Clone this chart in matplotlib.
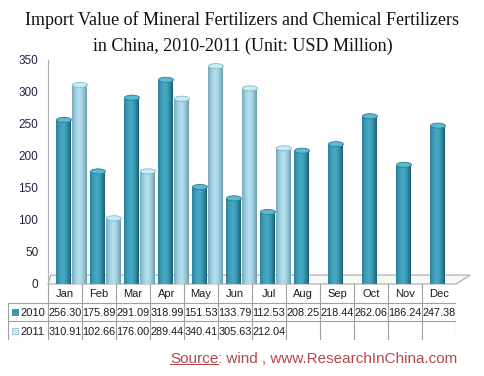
import numpy as np
import matplotlib.pyplot as plt
from matplotlib.colors import LinearSegmentedColormap
from matplotlib.patches import Ellipse, Polygon

# data
months = ['Jan', 'Feb', 'Mar', 'Apr', 'May', 'Jun', 'Jul', 'Aug', 'Sep', 'Oct', 'Nov', 'Dec']
v2010 = [256.30, 175.89, 291.09, 318.99, 151.53, 133.79, 112.53, 208.25, 218.44, 262.06, 186.24, 247.38]
v2011 = [310.91, 102.66, 176.00, 289.44, 340.41, 305.63, 212.04]
series_names = ['2010', '2011']
yticks = [0, 50, 100, 150, 200, 250, 300, 350]

W, H = 485, 376
fig = plt.figure(figsize=(W / 100, H / 100), dpi=100)
sans = 'Liberation Sans'

# colours for the two series (cylinder look)
cm_dark = LinearSegmentedColormap.from_list('d', ['#2b8199', '#3fa0bb', '#4aaac5', '#3392ab', '#1c5d70'])
cm_light = LinearSegmentedColormap.from_list('l', ['#7aa9b9', '#9fd1e2', '#b6e1ee', '#9acbdc', '#6e9bab'])
cap_face = ['#5cb9d1', '#c8ecf6']
cap_edge = ['#2b7d93', '#86b8c9']
grad = np.linspace(0, 1, 64).reshape(1, -1)

ax = fig.add_axes([48 / W, 1 - 284 / H, (456 - 48) / W, (284 - 60) / H])
ax.set_xlim(-0.5, 11.5)
ax.set_ylim(0, 350)

# floor
floor = Polygon([(-0.5, 0), (11.5, 0), (11.92, 14), (-0.42, 14)], closed=True,
                facecolor='#f8f8f8', edgecolor='#a8a8a8', lw=0.8, zorder=1, clip_on=False)
ax.add_patch(floor)

x = np.arange(len(months))
bw = 0.44
offsets = [-0.03, 0.44]
for k, (vals, cm) in enumerate([(v2010, cm_dark), (v2011, cm_light)]):
    xs = x[:len(vals)] + offsets[k]
    bars = ax.bar(xs, vals, bottom=0, width=bw, color='none', zorder=2)
    for b, v in zip(bars, vals):
        x0 = b.get_x()
        im = ax.imshow(grad, cmap=cm, aspect='auto', extent=[x0, x0 + bw, 0, v], zorder=2)
        im.set_clip_path(b)
        ax.add_patch(Ellipse((x0 + bw / 2, v), bw, 8, facecolor=cap_face[k],
                             edgecolor=cap_edge[k], lw=0.6, zorder=3))

ax.set_xlim(-0.5, 11.5)
ax.set_ylim(0, 350)
ax.set_xticks([])
ax.set_yticks(yticks)
ax.set_yticklabels([str(t) for t in yticks], fontsize=8.5, family=sans, color='#1f2640')
ax.tick_params(axis='y', length=0, pad=7)
for s in ['top', 'right', 'bottom']:
    ax.spines[s].set_visible(False)
ax.spines['left'].set_color('#b0b0b0')
ax.spines['left'].set_bounds(0, 350)

# data table under the chart
lab_w = 40 / 34
tab = fig.add_axes([8 / W, 1 - 340 / H, (456 - 8) / W, (340 - 284) / H])
tab.set_xlim(-0.5 - lab_w, 11.5)
tab.set_ylim(3, 0)
tab.axis('off')
lc = '#a0a0a0'
for i in range(len(months) + 1):
    tab.plot([i - 0.5, i - 0.5], [0, 3], color=lc, lw=0.8)
tab.plot([-0.5 - lab_w] * 2, [1, 3], color=lc, lw=0.8)
for r in [1, 2, 3]:
    tab.plot([-0.5 - lab_w, 11.5], [r, r], color=lc, lw=0.8)
for i, m in enumerate(months):
    tab.text(i, 0.55, m, ha='center', va='center', fontsize=8, family=sans, color='#1a1a1a')
for r, vals in enumerate([v2010, v2011]):
    for i, v in enumerate(vals):
        tab.text(i, r + 1.55, '%.2f' % v, ha='center', va='center', fontsize=7.8,
                 family=sans, color='#1a1a1a')
    tab.scatter([-0.5 - lab_w + 0.2], [r + 1.5], marker='s', s=22,
                color=cap_face[r] if r else '#3a9ab5', edgecolor=cap_edge[r], lw=0.5)
    tab.text(-0.5 - lab_w + 0.36, r + 1.55, series_names[r], ha='left', va='center',
             fontsize=8, family=sans, color='#1a1a1a')

# title
fig.text(0.5, 1 - 20 / H, 'Import Value of Mineral Fertilizers and Chemical Fertilizers',
         ha='center', va='center', fontsize=13, family='Liberation Serif', color='#111111')
fig.text(0.5, 1 - 46 / H, 'in China, 2010-2011 (Unit: USD Million)',
         ha='center', va='center', fontsize=13, family='Liberation Serif', color='#111111')

# source line, "Source" underlined
src_col = '#b5474b'
t1 = fig.text(170 / W, 1 - 359 / H, 'Source', ha='left', va='center', fontsize=11,
              family=sans, color=src_col)
fig.canvas.draw()
bb = t1.get_window_extent().transformed(fig.transFigure.inverted())
fig.text(bb.x1, 1 - 359 / H, ': wind , www.ResearchInChina.com', ha='left', va='center',
         fontsize=11, family=sans, color=src_col)
fig.add_artist(plt.Line2D([bb.x0, bb.x1], [bb.y0 + 0.004, bb.y0 + 0.004],
                          color=src_col, lw=0.8))

fig.savefig('out.png', dpi=100)
